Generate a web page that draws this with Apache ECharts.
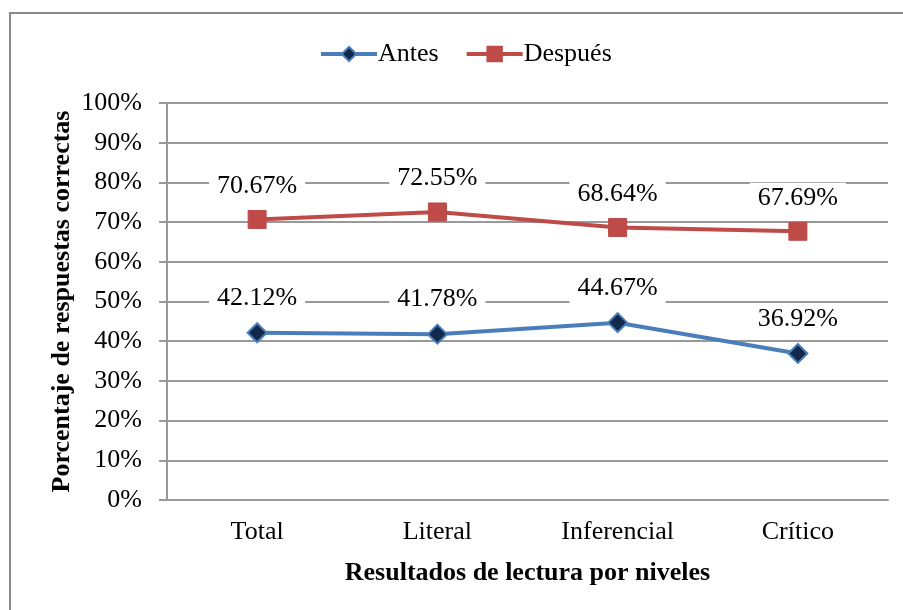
<!DOCTYPE html>
<html>
<head>
<meta charset="utf-8">
<script src="https://cdn.jsdelivr.net/npm/echarts@6/dist/echarts.min.js"></script>
<style>
  html, body { margin: 0; padding: 0; background: #fff; }
  #chart { width: 903px; height: 610px; }
</style>
</head>
<body>
<div id="chart"></div>
<script>
const categories = ["Total", "Literal", "Inferencial", "Crítico"];
const antes = [42.12, 41.78, 44.67, 36.92];
const despues = [70.67, 72.55, 68.64, 67.69];

const font = "'Liberation Serif', 'Times New Roman', serif";
const fs = 26;
const chart = echarts.init(document.getElementById("chart"));

const labelStyle = {
  show: true,
  position: "top",
  distance: 9,
  formatter: (p) => p.value.toFixed(2) + "%",
  fontFamily: font,
  fontSize: fs,
  color: "#000",
  backgroundColor: "#fff",
  padding: [2, 8],
};

const option = {
  animation: false,
  textStyle: { fontFamily: font },
  graphic: [
    {
      type: "rect",
      shape: { x: 10, y: 13, width: 900, height: 620 },
      style: { fill: "none", stroke: "#888", lineWidth: 2 },
      silent: true,
    },
  ],
  legend: {
    top: 36,
    left: 314,
    itemWidth: 56,
    itemHeight: 18,
    itemGap: 26,
    lineStyle: { width: 4 },
    textStyle: { fontFamily: font, fontSize: fs, color: "#000", padding: [0, 0, 0, -4] },
    data: ["Antes", "Después"],
  },
  grid: { left: 167, right: 15, top: 103, bottom: 110 },
  xAxis: {
    type: "category",
    data: categories,
    name: "Resultados de lectura por niveles",
    nameLocation: "middle",
    nameGap: 60,
    nameMoveOverlap: false,
    nameTextStyle: { fontFamily: font, fontSize: fs, fontWeight: "bold", color: "#000" },
    axisLine: { lineStyle: { color: "#999", width: 2 } },
    axisTick: { show: false },
    axisLabel: { fontFamily: font, fontSize: fs, color: "#000", margin: 19 },
  },
  yAxis: {
    type: "value",
    min: 0,
    max: 100,
    interval: 10,
    name: "Porcentaje de respuestas correctas",
    nameLocation: "middle",
    nameGap: 92,
    nameMoveOverlap: false,
    nameTextStyle: { fontFamily: font, fontSize: fs, fontWeight: "bold", color: "#000" },
    axisLine: { show: true, lineStyle: { color: "#999", width: 2 } },
    axisTick: { show: true, length: 8, lineStyle: { color: "#999", width: 2 } },
    axisLabel: { fontFamily: font, fontSize: fs, color: "#000", margin: 25, formatter: "{value}%" },
    splitLine: { lineStyle: { color: "#999", width: 2 } },
  },
  series: [
    {
      name: "Antes",
      type: "line",
      data: antes,
      symbol: "diamond",
      symbolSize: 19,
      lineStyle: { color: "#4A7EBB", width: 4 },
      itemStyle: { color: "#13294B", borderColor: "#4A7EBB", borderWidth: 2 },
      label: labelStyle,
      z: 3,
    },
    {
      name: "Después",
      type: "line",
      data: despues,
      symbol: "rect",
      symbolSize: 18,
      lineStyle: { color: "#BE4B48", width: 4 },
      itemStyle: { color: "#BE4B48", borderColor: "#BE4B48", borderWidth: 1 },
      label: labelStyle,
      z: 3,
    },
  ],
};

chart.setOption(option);
</script>
</body>
</html>
